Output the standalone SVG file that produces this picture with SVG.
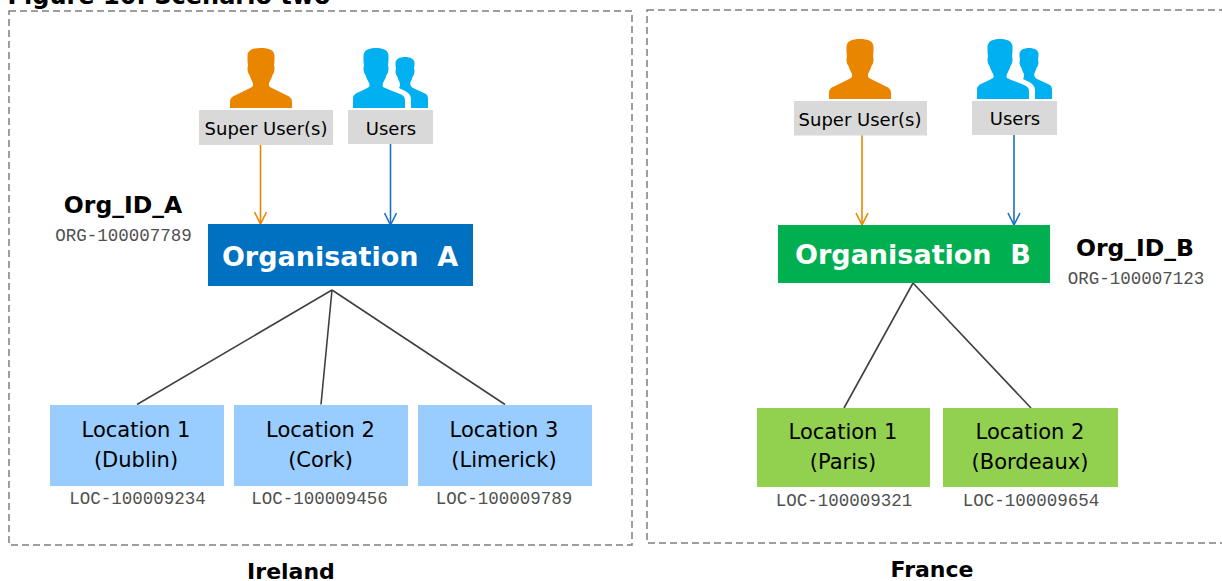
<svg xmlns="http://www.w3.org/2000/svg" width="1222" height="581" viewBox="0 0 1222 581">
<style>
text{font-family:"DejaVu Sans",Verdana,sans-serif;text-anchor:middle;fill:#000}
.region{fill:none;stroke:#7f7f7f;stroke-width:1.5;stroke-dasharray:7 4}
.lbl{fill:#d9d9d9}.t18{font-size:18px}
.t20{font-size:21px}
.b20{font-size:22px;font-weight:bold}
.id{font-size:23.500px;font-weight:bold}
.org{font-size:27px;font-weight:bold;fill:#fff;white-space:pre}
.mono{font-family:"Liberation Mono","Courier New",monospace;font-size:17.5px;fill:#505050}
.tree{stroke:#404040;stroke-width:1.6;fill:none}
.oa{stroke:#ea8500;stroke-width:1.6;fill:none}
.ba{stroke:#1a70c0;stroke-width:1.6;fill:none}
.lb{fill:#99ccff}.lg{fill:#92d050}
</style>
<defs>
<path id="su" fill="#ea8500" d="M-31 60V54C-31 50-28 48-25 47C-20 44-14 42-9 39C-7 37-8 35-9 33C-10 31-11 29-11.500 27C-13 25-13.500 23-13.500 20C-13.500 19-13 18-13 17C-13.500 15-13.500 12-13.500 8C-13.500 2-8 0 0 0C8 0 13.500 2 13.500 8C13.500 12 13.500 15 13 17C13 18 13.500 19 13.500 20C13.500 23 13 25 11.500 27C11 29 10 31 9 33C8 35 7 37 9 39C14 42 20 44 25 47C28 48 31 50 31 54V60Z"/>
<g id="us" fill="#00b0f0">
<path d="M0 60V51C0 47 3 45 6 44C10 42 13 41 16 39C17.500 37 16 35 15 33C14 31 13 29 12.500 27C11 25 10.500 23 10.500 20C10.500 19 11 18 11 17C10.500 15 10.500 12 10.500 8C10.500 2 16 0 23 0C30 0 35.500 2 35.500 8C35.500 12 35.500 15 35 17C35 18 35.500 19 35.500 20C35.500 23 35 25 33.500 27C33 29 32 31 31 33C30 35 29 37 30 39C34 41 40 43 47 46C50 47 52 49 52 52V60Z"/>
<path d="M58 60V51C58 47 55 44 50 42L46 40C47.500 38 47 36 46.500 34C45.500 32 45 31 44.500 29C43 27 42.500 25 42.500 23C42.500 22 43 21 43 20C42.500 19 42.500 17 42.500 15C42.500 11 47 9 52 9C57 9 61.500 11 61.500 15C61.500 17 61.500 19 61 20C61 21 61.500 22 61.500 23C61.500 25 61 27 59.500 29C59 31 58.500 32 57.500 34C57 36 57 38 60 40L71 45C74 46 75 48 75 51V60Z"/>
</g>
<marker id="ao" markerUnits="userSpaceOnUse" markerWidth="16" markerHeight="14" refX="13" refY="7" orient="auto"><path d="M1 1L13 7L1 13" class="oa"/></marker>
<marker id="ab" markerUnits="userSpaceOnUse" markerWidth="16" markerHeight="14" refX="13" refY="7" orient="auto"><path d="M1 1L13 7L1 13" class="ba"/></marker>
</defs>
<text x="169" y="4" style="font-size:24px;font-weight:bold">Figure 10: Scenario two</text>
<g id="ireland">
<rect class="region" x="9" y="11" width="623" height="534"/>
<text class="b20" x="291" y="579">Ireland</text>
</g>
<g id="france">
<rect class="region" x="647" y="10" width="590" height="533"/>
<text class="b20" x="932" y="577">France</text>
</g>
<g id="connectors">
<path class="oa" marker-end="url(#ao)" d="M260.500 145V224"/>
<path class="ba" marker-end="url(#ab)" d="M390.500 144V225"/>
<path class="tree" d="M332 290L137 404.500M332 290L321 404.500M332 290L505 404.500"/>
<path class="oa" marker-end="url(#ao)" d="M862 135V225"/>
<path class="ba" marker-end="url(#ab)" d="M1014 135V225"/>
<path class="tree" d="M913 283L844 408M913 283L1031 408"/>
</g>
<g id="superA"><use href="#su" x="261" y="48"/><rect class="lbl" x="199" y="110" width="134" height="35"/><text class="t18" x="266" y="135">Super User(s)</text></g>
<g id="usersA"><use href="#us" x="353" y="48"/><rect class="lbl" x="348" y="110" width="85" height="34"/><text class="t18" x="391" y="135">Users</text></g>
<g id="orgA"><rect x="208" y="224" width="265" height="62" fill="#0070c0"/><text class="org" x="340" y="265.500">Organisation  A</text></g>
<g id="idA"><text class="id" x="123" y="213">Org_ID_A</text><text class="mono" x="123.500" y="241">ORG-100007789</text></g>
<g id="locA1"><rect class="lb" x="50" y="405" width="174" height="81"/><text class="t20" x="136" y="437">Location 1</text><text class="t20" x="136" y="467">(Dublin)</text><text class="mono" x="137.500" y="504">LOC-100009234</text></g>
<g id="locA2"><rect class="lb" x="234" y="405" width="174" height="81"/><text class="t20" x="320.500" y="437">Location 2</text><text class="t20" x="320.500" y="467">(Cork)</text><text class="mono" x="319.500" y="504">LOC-100009456</text></g>
<g id="locA3"><rect class="lb" x="418" y="405" width="174" height="81"/><text class="t20" x="504" y="437">Location 3</text><text class="t20" x="504" y="467">(Limerick)</text><text class="mono" x="504" y="504">LOC-100009789</text></g>
<g id="superB"><use href="#su" x="860" y="39"/><rect class="lbl" x="794" y="101" width="133" height="34.500"/><text class="t18" x="860" y="126">Super User(s)</text></g>
<g id="usersB"><use href="#us" x="977" y="39"/><rect class="lbl" x="972" y="101" width="85" height="34"/><text class="t18" x="1015" y="125">Users</text></g>
<g id="orgB"><rect x="778" y="225" width="272" height="58" fill="#00b050"/><text class="org" x="913" y="264">Organisation  B</text></g>
<g id="idB"><text class="id" x="1135" y="256">Org_ID_B</text><text class="mono" x="1136" y="284">ORG-100007123</text></g>
<g id="locB1"><rect class="lg" x="757" y="408" width="173" height="79"/><text class="t20" x="843" y="439">Location 1</text><text class="t20" x="843" y="469">(Paris)</text><text class="mono" x="844" y="506">LOC-100009321</text></g>
<g id="locB2"><rect class="lg" x="943" y="408" width="175" height="79"/><text class="t20" x="1030" y="439">Location 2</text><text class="t20" x="1030" y="469">(Bordeaux)</text><text class="mono" x="1031" y="506">LOC-100009654</text></g>
</svg>
